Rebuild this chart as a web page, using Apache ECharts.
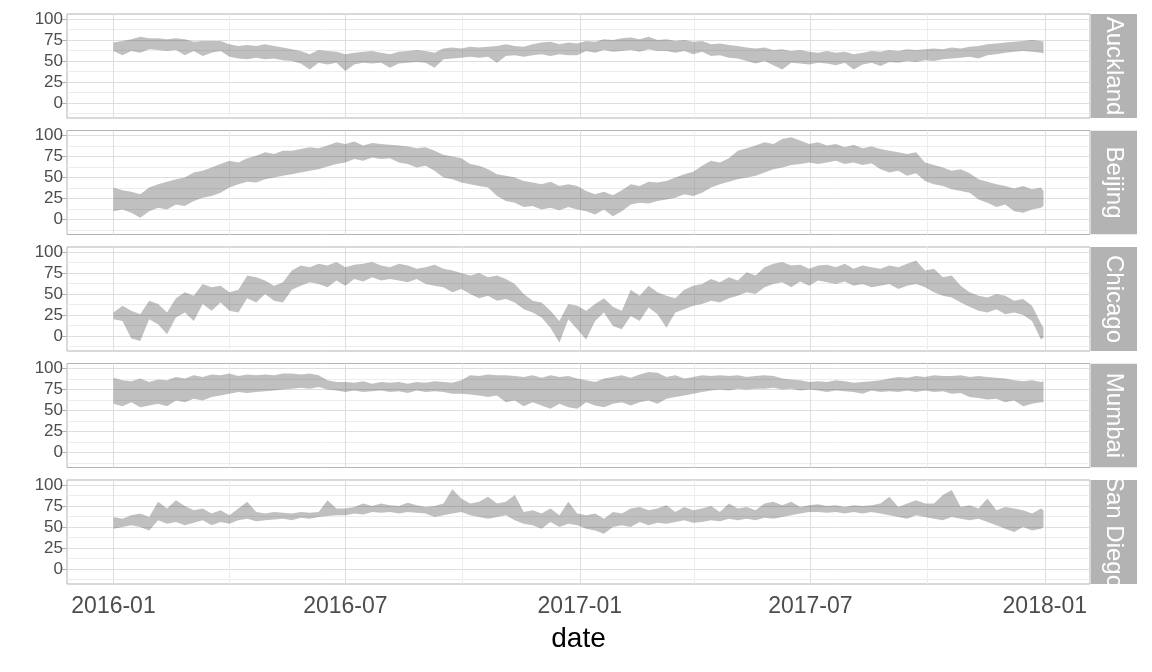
<!DOCTYPE html>
<html><head><meta charset="utf-8">
<script src="https://cdn.jsdelivr.net/npm/echarts@6/dist/echarts.min.js"></script>
<style>html,body{margin:0;padding:0;background:#fff}#c{width:1152px;height:672px}</style>
</head><body><div id="c"></div>
<script>
// ---- data (weekly samples, 2016-01-01 .. 2017-12-29, plus 2017-12-31) ----
const cities = ['Auckland', 'Beijing', 'Chicago', 'Mumbai', 'San Diego'];
const xTickLabels = ['2016-01', '2016-07', '2017-01', '2017-07', '2018-01'];
const xMinorTicks = ['2016-04', '2016-10', '2017-04', '2017-10'];
const yTicks = [0, 25, 50, 75, 100];
const yMinorTicks = [-12.5, 12.5, 37.5, 62.5, 87.5];

const aucklandHi = [72,74,76,79,77,77,76,77,76,73,74,74,74,70,68,69,68,70,68,66,64,62,58,63,62,61,58,60,61,62,60,58,61,62,63,62,60,65,66,65,67,66,67,68,70,68,67,70,72,73,70,72,71,
  74,73,76,75,77,78,76,79,75,76,74,75,73,74,70,71,69,68,66,65,66,63,64,62,63,61,60,62,60,61,58,60,62,61,63,62,64,63,64,65,64,66,65,67,68,70,71,72,73,74,75,74,73];
const aucklandLo = [62,57,62,60,64,63,62,63,57,62,56,60,62,55,53,52,54,52,53,51,50,47,40,48,46,48,38,46,48,47,48,42,47,48,49,48,42,52,53,54,55,54,55,48,56,57,55,57,58,56,58,57,57,
  62,60,63,61,62,63,61,64,62,62,60,62,58,61,56,57,54,53,50,47,50,45,40,48,47,46,48,47,45,48,40,46,48,44,49,48,50,49,51,50,52,53,54,55,53,57,58,60,61,62,61,60,59];

const beijingHi = [38,35,33,30,38,42,45,48,50,56,58,62,66,70,68,73,76,80,78,82,82,84,86,85,88,92,90,93,88,91,90,89,88,87,85,86,82,77,75,73,66,64,60,54,52,50,46,44,42,45,40,42,40,
  34,30,33,29,35,42,40,45,44,46,50,54,57,64,70,68,73,82,85,88,92,90,96,98,94,90,92,88,90,86,89,85,87,84,82,80,78,80,68,65,62,58,60,55,48,45,42,40,37,40,36,38,34];
const beijingLo = [10,12,8,2,10,14,12,18,16,22,26,28,32,38,42,45,44,48,50,52,54,56,58,60,63,66,68,72,70,74,72,73,68,66,62,64,58,50,48,44,42,40,38,28,22,20,15,16,12,14,11,15,12,
  10,6,12,4,10,18,20,19,22,24,26,30,28,32,38,42,45,48,50,52,56,60,62,65,66,68,66,68,70,66,68,65,67,60,56,58,52,55,46,42,40,36,34,32,24,20,15,18,10,8,12,14,16];

const chicagoHi = [28,36,30,26,42,38,28,45,52,48,62,58,60,52,55,72,70,66,60,64,78,84,82,86,84,88,82,85,86,88,84,82,86,84,80,82,85,80,78,75,72,75,70,72,68,62,50,42,40,30,18,38,36,
  30,38,45,35,30,55,48,60,52,48,45,55,60,62,68,64,70,66,76,72,82,86,88,84,85,80,84,85,82,86,80,84,82,80,84,82,86,90,78,80,70,72,60,52,48,46,50,48,42,44,36,15,10];
const chicagoLo = [20,18,-3,-6,20,14,2,22,28,18,38,30,40,30,28,45,40,50,42,40,55,60,64,62,58,66,60,68,65,70,66,68,66,64,68,62,60,58,52,56,50,45,48,42,44,40,32,28,22,10,-8,20,8,
  -4,18,28,12,8,24,18,34,26,10,28,32,36,38,42,40,45,48,52,50,58,62,64,58,65,60,66,64,62,65,60,62,58,60,62,56,60,62,58,52,48,46,40,35,30,28,32,26,28,25,18,-4,-2];

const mumbaiHi = [89,86,85,88,84,87,86,90,88,92,90,93,92,94,91,93,92,93,92,94,94,93,94,92,86,84,84,83,85,82,84,83,84,82,84,83,85,84,83,86,92,91,93,92,92,91,90,92,89,92,90,91,88,
  86,84,88,90,92,89,93,96,95,90,92,88,90,92,91,92,91,92,90,91,92,91,88,87,86,84,85,84,86,85,83,84,85,86,88,90,89,91,90,92,91,91,92,90,91,90,89,88,86,85,86,84,85];
const mumbaiLo = [58,55,60,54,56,58,55,62,60,64,62,66,68,70,72,71,72,73,74,75,76,77,76,78,75,74,72,74,72,73,74,72,73,71,74,72,73,72,70,70,69,68,66,68,60,62,55,60,56,52,58,54,52,
  60,56,54,58,60,56,60,62,58,64,66,68,70,72,74,75,74,76,75,76,76,77,75,76,74,75,74,72,74,73,72,70,74,72,73,72,74,72,74,72,73,70,71,66,65,63,64,60,62,55,58,60,60];

const sanDiegoHi = [62,60,64,66,62,80,72,82,75,70,72,66,70,64,72,80,68,66,68,67,66,68,67,68,82,72,72,74,78,75,78,76,75,79,76,74,75,78,95,84,78,80,86,78,80,88,68,70,66,72,64,80,66,
  64,66,60,68,66,72,74,70,72,76,68,74,70,72,75,68,78,72,74,70,78,80,76,80,74,76,77,75,76,74,76,75,76,78,86,74,78,82,78,78,88,94,74,76,72,84,70,74,72,70,66,72,70];
const sanDiegoLo = [48,50,52,50,46,58,54,56,52,55,58,52,56,54,58,60,57,58,59,60,58,61,60,62,63,64,64,66,65,68,67,68,66,68,67,66,62,64,66,68,64,62,60,62,64,58,54,52,48,56,50,54,52,
  48,46,42,50,52,50,56,52,55,54,56,58,55,56,58,57,60,58,60,58,61,60,62,64,66,68,68,67,68,66,68,66,68,66,64,62,60,64,62,60,58,62,60,58,60,56,52,48,44,50,46,48,50];

const highs = [aucklandHi, beijingHi, chicagoHi, mumbaiHi, sanDiegoHi];
const lows = [aucklandLo, beijingLo, chicagoLo, mumbaiLo, sanDiegoLo];

// sample dates
const DAY = 86400000;
const dates = [];
for (let k = 0; k <= 104; k++) dates.push(Date.UTC(2016, 0, 1) + 7 * k * DAY);
dates.push(Date.UTC(2017, 11, 31));

function ym(s) { const p = s.split('-'); return Date.UTC(+p[0], +p[1] - 1, 1); }
const xMajor = xTickLabels.map(ym);
const xMinor = xMinorTicks.map(ym);
const xMin = Date.UTC(2016, 0, 1) - 36.5 * DAY;
const xMax = Date.UTC(2017, 11, 31) + 36.5 * DAY;
const yMin = -17.8, yMax = 106;

// ---- layout ----
const FONT = 'Liberation Sans';
const tops = [14, 130.5, 247, 363.5, 480];
const H = 104;
const GL = 67, GW = 1023;
const MAJOR = '#dedede', MINOR = '#ededed', BORDER = '#b3b3b3';
const RIBBON = 'rgba(51,51,51,0.31)';

const grids = [], xAxes = [], yAxes = [], series = [], graphics = [];
tops.forEach((t, i) => {
  const last = i === tops.length - 1;
  grids.push({ left: GL, width: GW, top: t, height: H, show: true, borderColor: BORDER, borderWidth: 1, backgroundColor: 'transparent' });
  xAxes.push({
    type: 'value', gridIndex: i, min: xMin, max: xMax, scale: true,
    splitLine: { show: false }, axisLine: { show: false },
    axisTick: last ? { show: true, customValues: xMajor, length: 5, lineStyle: { color: BORDER, width: 1 } } : { show: false },
    axisLabel: last ? {
      show: true, customValues: xMajor, fontSize: 23, color: '#4d4d4d', fontFamily: FONT, margin: 11,
      formatter: v => { const d = new Date(v); return d.getUTCFullYear() + '-' + String(d.getUTCMonth() + 1).padStart(2, '0'); }
    } : { show: false },
    name: last ? 'date' : '', nameLocation: 'middle', nameGap: 41,
    nameTextStyle: { fontSize: 28, color: '#000', fontFamily: FONT }
  });
  yAxes.push({
    type: 'value', gridIndex: i, min: yMin, max: yMax, minInterval: 25, maxInterval: 25,
    splitLine: { show: true, lineStyle: { color: MAJOR, width: 1 } },
    axisLine: { show: false },
    axisTick: { show: true, customValues: yTicks, length: 5, lineStyle: { color: BORDER, width: 1 } },
    axisLabel: { customValues: yTicks, fontSize: 17, color: '#4d4d4d', fontFamily: FONT, margin: 4 }
  });
  const lo = lows[i], hi = highs[i];
  // gridlines (minor + major x) drawn through the axes' own scales
  series.push({
    type: 'line', xAxisIndex: i, yAxisIndex: i, data: [], silent: true, z: 1,
    markLine: {
      silent: true, symbol: 'none', animation: false, z: 1, label: { show: false },
      data: [
        ...xMinor.map(v => ({ xAxis: v, lineStyle: { color: MINOR, width: 1, type: 'solid' } })),
        ...yMinorTicks.map(v => ({ yAxis: v, lineStyle: { color: MINOR, width: 1, type: 'solid' } })),
        ...xMajor.map(v => ({ xAxis: v, lineStyle: { color: MAJOR, width: 1, type: 'solid' } }))
      ]
    }
  });
  // ribbon: one polygon from the min / max values
  series.push({
    type: 'custom', xAxisIndex: i, yAxisIndex: i, z: 3, silent: true, clip: true,
    data: dates.map((d, j) => [d, lo[j], hi[j]]),
    encode: { x: 0, y: [1, 2] },
    renderItem: (params, api) => {
      if (params.dataIndex !== 0) return null;
      const top = dates.map((d, j) => api.coord([d, hi[j]]));
      const bottom = dates.map((d, j) => api.coord([d, lo[j]])).reverse();
      return { type: 'polygon', shape: { points: top.concat(bottom) }, style: { fill: RIBBON, stroke: null } };
    }
  });
  // strip
  graphics.push({ type: 'rect', shape: { x: GL + GW + 1, y: t, width: 46, height: H }, style: { fill: BORDER }, z: 10 });
  graphics.push({
    type: 'text', x: GL + GW + 24, y: t + H / 2, rotation: -Math.PI / 2, z: 11,
    style: { text: cities[i], fill: '#ffffff', fontSize: 24, fontFamily: FONT, align: 'center', verticalAlign: 'middle' }
  });
});
// white masks clipping strip text to the strips
const maskY = [[0, tops[0]]];
for (let i = 0; i < tops.length - 1; i++) maskY.push([tops[i] + H, tops[i + 1]]);
maskY.push([tops[tops.length - 1] + H, tops[tops.length - 1] + H + 10]);
maskY.forEach(([a, b]) => graphics.push({ type: 'rect', shape: { x: GL + GW + 1, y: a, width: 50, height: b - a }, style: { fill: '#ffffff' }, z: 12 }));

const chart = echarts.init(document.getElementById('c'), null, { renderer: 'canvas' });
chart.setOption({
  animation: false,
  backgroundColor: '#ffffff',
  textStyle: { fontFamily: FONT },
  grid: grids, xAxis: xAxes, yAxis: yAxes, series: series, graphic: graphics
});
</script></body></html>
